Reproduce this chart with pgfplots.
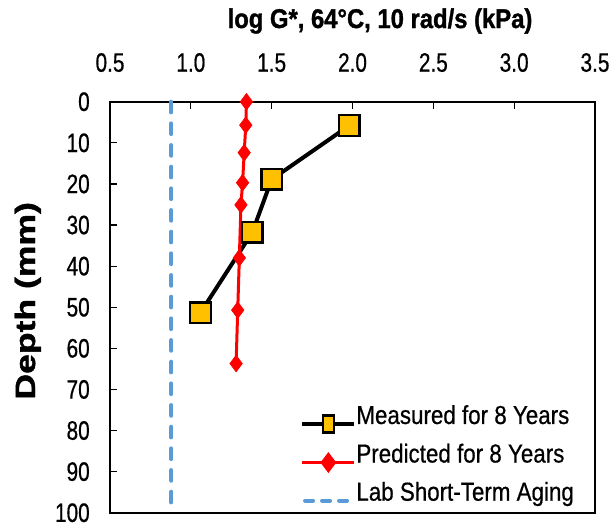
\documentclass[border=0pt]{standalone}
\usepackage{fontspec}
\usepackage{graphicx}
\usepackage{pgfplots}
\pgfplotsset{compat=1.18}
\setmainfont{Liberation Sans}
\newfontfamily\tickfont[FakeStretch=0.78,FakeBold=0.6]{Liberation Sans}
\newfontfamily\legfont[FakeStretch=0.86,FakeBold=0.6]{Liberation Sans}
\newfontfamily\titlefont[FakeStretch=0.88,FakeBold=1.2]{Liberation Sans}
\newfontfamily\ylabfont[FakeStretch=1.27,FakeBold=1.5]{Liberation Sans}
\definecolor{mgold}{HTML}{FFC000}
\definecolor{lblue}{HTML}{5B9BD5}
\begin{document}
\begin{tikzpicture}
\begin{axis}[
  scale only axis,
  width=363.75pt, height=308.25pt,
  xmin=0.5, xmax=3.5, ymin=0, ymax=100,
  y dir=reverse,
  clip=false,
  xtick={0.5,1.0,1.5,2.0,2.5,3.0,3.5},
  ytick={0,10,...,100},
  xtick pos=upper, ytick pos=left,
  xticklabel pos=upper,
  tick align=inside,
  major tick length=5.25pt,
  every tick/.style={black, line width=0.9pt},
  axis line style={line width=1.3pt},
  /pgf/number format/assume math mode=true,
  xticklabel style={font=\fontsize{20}{20}\tickfont, anchor=base, yshift=22.5pt,
    /pgf/number format/.cd, fixed, fixed zerofill, precision=1},
  yticklabel style={font=\fontsize{20}{20}\tickfont, anchor=east, inner sep=0pt, xshift=-15pt},
  title={log G*, 64°C, 10 rad/s (kPa)},
  title style={font=\fontsize{20.3}{20.3}\titlefont\bfseries, at={(axis description cs:0.5567,1.1599)}, anchor=base, inner sep=0pt},
  ylabel={Depth (mm)},
  ylabel style={font=\fontsize{21}{21}\ylabfont\bfseries, at={(axis description cs:-0.1546,0.5156)}, anchor=base, rotate=0, inner sep=0pt},
  legend style={at={(axis description cs:0.392,0.262)}, anchor=north west, draw=none, fill=none,
    inner sep=0pt, row sep=7.5pt, column sep=0pt,
    font=\fontsize{19.5}{19.5}\legfont,
    nodes={inner sep=0pt, text height=14pt, text depth=4pt, anchor=base west}},
  legend cell align=left,
]
\addplot[black, line width=3pt, mark=square*, mark size=7.8pt,
  mark options={fill=mgold, draw=black, line width=2pt},
  legend image code/.code={
    \draw[black, line width=3pt] (0pt,0pt) -- (39pt,0pt);
    \draw[black, line width=1.8pt, fill=mgold] (15.5pt,-6.5pt) rectangle (23.5pt,6.5pt);
  }]
coordinates {(1.98,5.8) (1.50,18.9) (1.38,31.8) (1.06,51.3)};
\addlegendentry{Measured for 8 Years}
\addplot[red, line width=2.25pt, mark=diamond*, mark size=6.2pt,
  mark options={fill=red, draw=red, line width=0.5pt},
  legend image code/.code={
    \draw[red, line width=2.25pt] (0pt,0pt) -- (39pt,0pt);
    \fill[red] (19.5pt,-6pt) -- (24pt,0pt) -- (19.5pt,6pt) -- (15pt,0pt) -- cycle;
  }]
coordinates {(1.344,0) (1.34,5.7) (1.33,12.4) (1.32,19.7) (1.31,25.1) (1.30,38.0) (1.29,50.7) (1.28,63.7)};
\addlegendentry{Predicted for 8 Years}
\addplot[lblue, line width=3pt, line cap=round, dash pattern=on 8pt off 8.25pt,
  legend image code/.code={
    \draw[lblue, line width=3pt, line cap=round, dash pattern=on 6pt off 6.75pt] (2pt,0pt) -- (33.5pt,0pt);
  }]
coordinates {(0.88,0) (0.88,100)};
\addlegendentry{Lab Short-Term Aging}
\end{axis}
\pgfresetboundingbox
\path ([xshift=-82.5pt,yshift=-10pt]current axis.south west) rectangle ([xshift=15pt,yshift=76.3pt]current axis.north east);
\end{tikzpicture}
\end{document}
